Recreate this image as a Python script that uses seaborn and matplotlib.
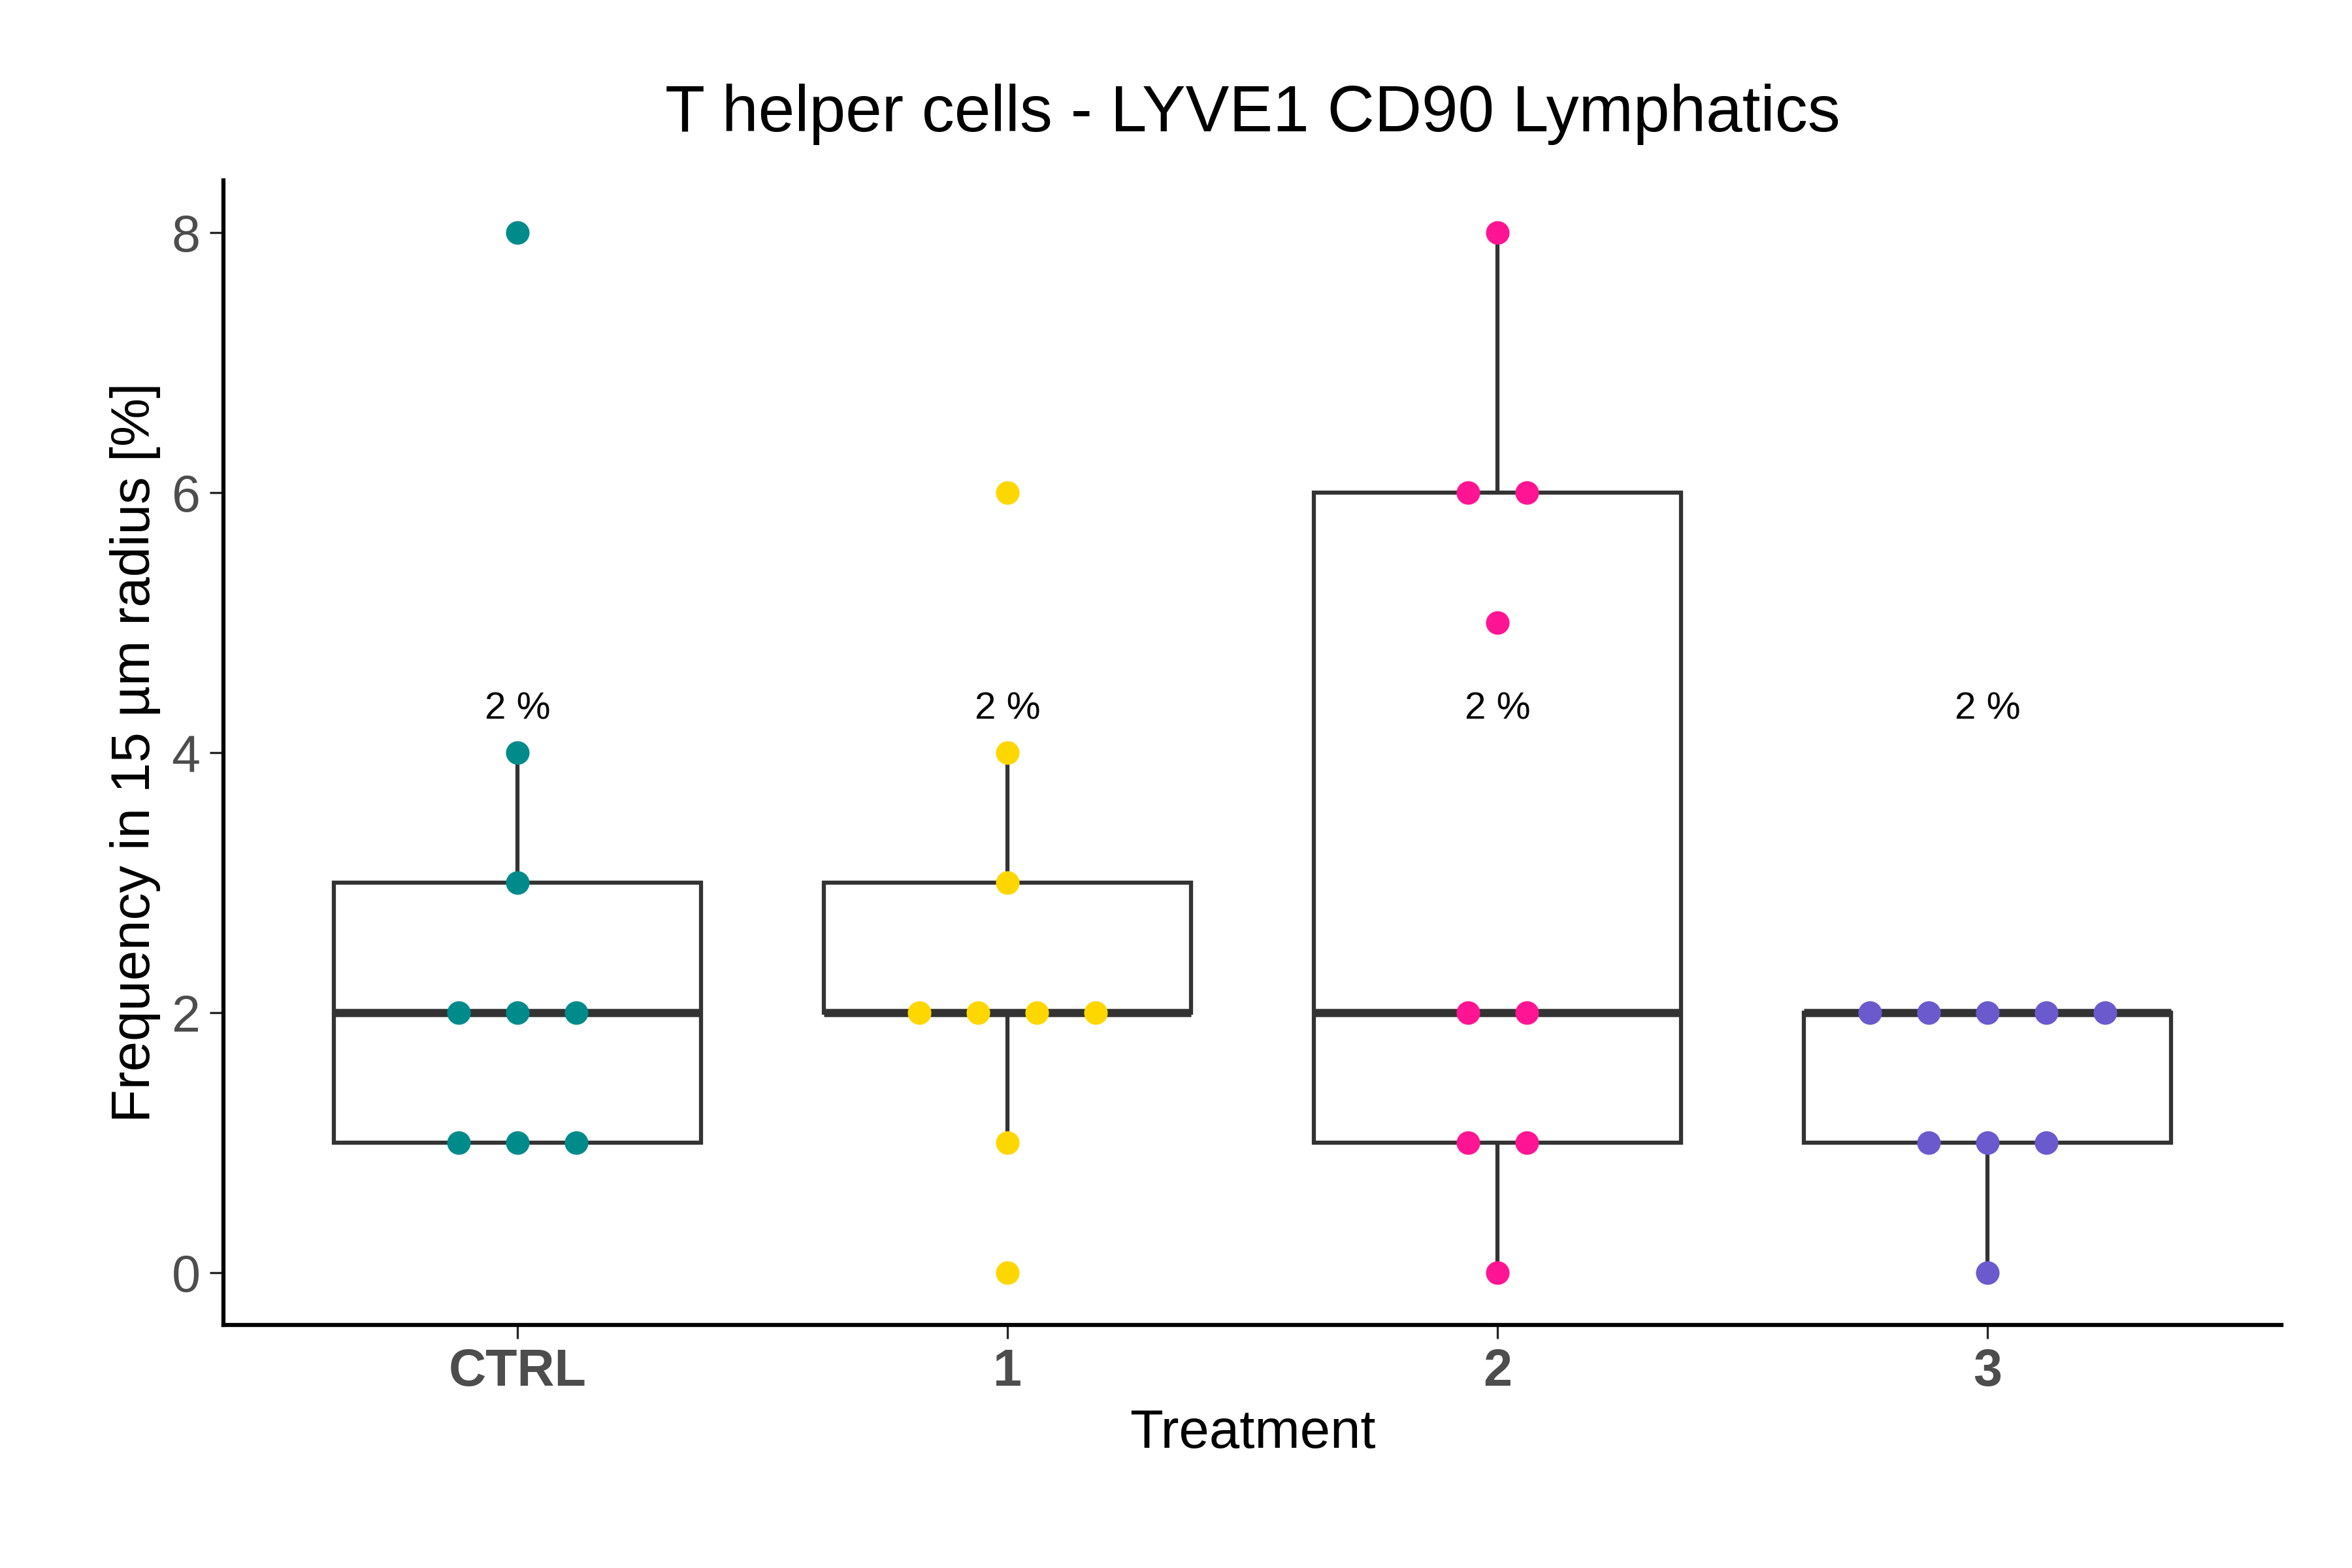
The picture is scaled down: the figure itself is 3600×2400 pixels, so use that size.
import matplotlib
matplotlib.use("Agg")
import matplotlib.pyplot as plt
import seaborn as sns
import pandas as pd
from collections import Counter

groups = ["CTRL", "1", "2", "3"]
ctrl_vals = [8, 4, 3, 2, 2, 2, 1, 1, 1]
t1_vals = [6, 4, 3, 2, 2, 2, 2, 1, 0]
t2_vals = [8, 6, 6, 5, 2, 2, 1, 1, 0]
t3_vals = [2, 2, 2, 2, 2, 1, 1, 1, 0]
medians_txt = ["2 %", "2 %", "2 %", "2 %"]
colors = ["#008B8B", "#FFD700", "#FF1493", "#6A5ACD"]

rows = []
for g, vals in zip(groups, [ctrl_vals, t1_vals, t2_vals, t3_vals]):
    for v in vals:
        rows.append({"Treatment": g, "Freq": v})
df = pd.DataFrame(rows)

sns.set_style("white")
plt.rcParams['font.family'] = ['Arial', 'Liberation Sans', 'DejaVu Sans']
fig, ax = plt.subplots(figsize=(12, 8), dpi=300)

sns.boxplot(data=df, x="Treatment", y="Freq", order=groups, showfliers=False,
            width=0.75, color="white", linecolor="#333333", linewidth=1.5,
            medianprops={"linewidth": 3}, capprops={"linewidth": 0}, ax=ax)

# dot-plot style: points with the same value spread side by side
step = 0.12
for i, g in enumerate(groups):
    vals = df.loc[df["Treatment"] == g, "Freq"]
    for v, n in Counter(vals).items():
        xs = [i + (k - (n - 1) / 2) * step for k in range(n)]
        ax.scatter(xs, [v] * n, s=75, color=colors[i], zorder=3, linewidths=0)

for i, t in enumerate(medians_txt):
    ax.text(i, 4.2, t, ha="center", va="bottom", fontsize=14, color="black")

ax.set_xlim(-0.6, 3.6)
ax.set_ylim(-0.4, 8.4)
ax.set_yticks([0, 2, 4, 6, 8])
ax.set_title("T helper cells - LYVE1 CD90 Lymphatics", fontsize=24, pad=18, color="black")
ax.set_xlabel("Treatment", fontsize=20, color="black")
ax.set_ylabel("Frequency in 15 µm radius [%]", fontsize=20, color="black")
ax.tick_params(axis="y", labelsize=19, labelcolor="#4d4d4d", left=True, length=5)
ax.tick_params(axis="x", labelsize=19, labelcolor="#4d4d4d", bottom=True, length=5)
for lbl in ax.get_xticklabels():
    lbl.set_fontweight("bold")
sns.despine(ax=ax)
for s in ["left", "bottom"]:
    ax.spines[s].set_linewidth(1.5)
    ax.spines[s].set_color("black")

plt.subplots_adjust(left=0.095, right=0.97, top=0.885, bottom=0.155)
fig.savefig("out.png", dpi=300)
